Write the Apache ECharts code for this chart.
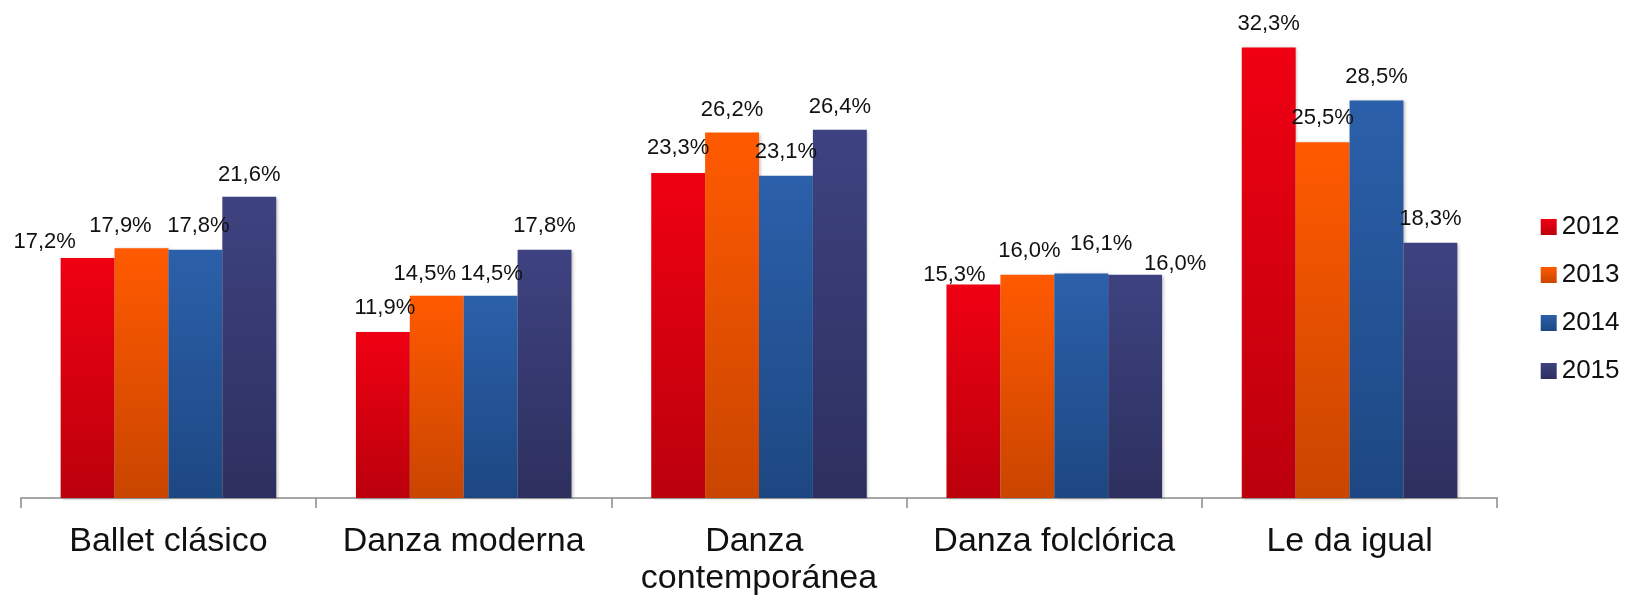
<!DOCTYPE html>
<html>
<head>
<meta charset="utf-8">
<script src="https://cdn.jsdelivr.net/npm/echarts@6/dist/echarts.min.js"></script>
<style>
html,body{margin:0;padding:0;background:#fff;}
#c{width:1628px;height:597px;}
</style>
</head>
<body>
<div id="c"></div>
<script>
const categories = ['Ballet clásico', 'Danza moderna', 'Danza contemporánea', 'Danza folclórica', 'Le da igual'];
const seriesNames = ['2012', '2013', '2014', '2015'];
const values2012 = [17.2, 11.9, 23.3, 15.3, 32.3];
const values2013 = [17.9, 14.5, 26.2, 16.0, 25.5];
const values2014 = [17.8, 14.5, 23.1, 16.1, 28.5];
const values2015 = [21.6, 17.8, 26.4, 16.0, 18.3];
const allValues = [values2012, values2013, values2014, values2015];

// label nudges (dx, dy in px) per series / category, as placed in the original
const labelShift = [
  [[-43, 8], [2, 0], [0, -1], [-19, 14], [0, 0]],
  [[-21, 2], [-12, 2], [0, 1], [2, 0], [0, 0]],
  [[3, 0], [1, 2], [0, 0], [20, -5], [0, 0]],
  [[0, 2], [0, 0], [0, 1], [40, 13], [0, 0]]
];

const gradients = [
  ['#ef0012', '#bb000c'],
  ['#ff5a00', '#c94500'],
  ['#2b60aa', '#1d4782'],
  ['#3e4280', '#2d305e']
];

const FONT = '"Liberation Sans", Arial, sans-serif';

const series = seriesNames.map((name, si) => ({
  name: name,
  type: 'bar',
  barGap: '0%',
  barCategoryGap: '27%',
  itemStyle: {
    color: new echarts.graphic.LinearGradient(0, 0, 0, 1, [
      { offset: 0, color: gradients[si][0] },
      { offset: 1, color: gradients[si][1] }
    ]),
    shadowBlur: 3,
    shadowColor: 'rgba(0,0,0,0.25)',
    shadowOffsetX: 1.5,
    shadowOffsetY: 1
  },
  data: allValues[si].map((v, ci) => ({
    value: v,
    label: { offset: labelShift[si][ci] }
  })),
  label: {
    show: true,
    position: 'top',
    distance: 13,
    fontFamily: FONT,
    fontSize: 22,
    lineHeight: 22,
    color: '#111',
    formatter: p => p.value.toFixed(1).replace('.', ',') + '%'
  }
}));

const chart = echarts.init(document.getElementById('c'), null, { renderer: 'canvas' });
chart.setOption({
  animation: false,
  backgroundColor: '#ffffff',
  grid: { left: 20.8, right: 130.8, top: 9.8, bottom: 96, containLabel: false },
  legend: {
    orient: 'vertical',
    left: 1535.7,
    top: 209,
    padding: 5,
    itemWidth: 16,
    itemHeight: 16,
    itemGap: 22,
    icon: 'rect',
    textStyle: { fontFamily: FONT, fontSize: 26, lineHeight: 26, color: '#111', padding: [0, 0, 0, 0] },
    data: seriesNames
  },
  xAxis: {
    type: 'category',
    data: categories,
    axisLine: { show: true, lineStyle: { color: '#8a8a8a', width: 1.5 } },
    axisTick: { show: true, length: 10, lineStyle: { color: '#8a8a8a', width: 1.5 } },
    axisLabel: {
      margin: 25,
      fontFamily: FONT,
      fontSize: 34,
      lineHeight: 37,
      color: '#111',
      width: 290,
      overflow: 'break',
      interval: 0
    }
  },
  yAxis: {
    type: 'value',
    min: 0,
    max: 35,
    show: false,
    splitLine: { show: false }
  },
  series: series
});
</script>
</body>
</html>
